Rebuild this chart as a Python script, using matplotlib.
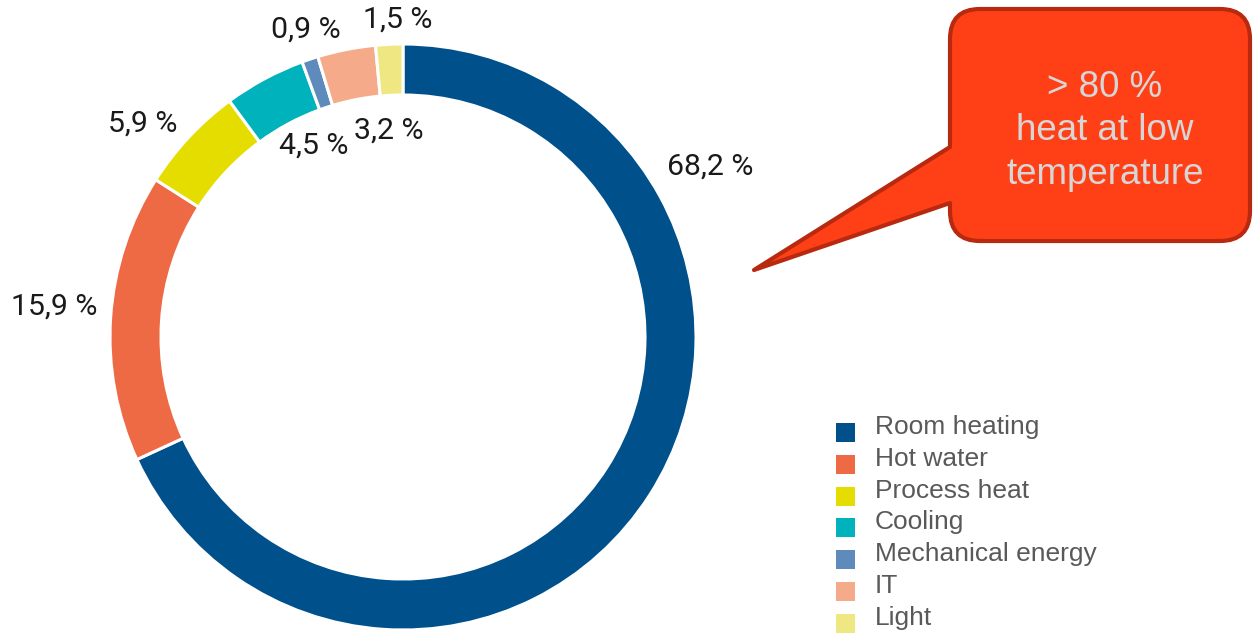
import matplotlib
matplotlib.use("Agg")
import matplotlib.pyplot as plt
from matplotlib.path import Path
from matplotlib.patches import PathPatch, Rectangle

# ---- data ----
categories = ["Room heating", "Hot water", "Process heat", "Cooling",
              "Mechanical energy", "IT", "Light"]
shares = [68.2, 15.9, 5.9, 4.5, 0.9, 3.2, 1.5]
label_texts = ["68,2 %", "15,9 %", "5,9 %", "4,5 %", "0,9 %", "3,2 %", "1,5 %"]
callout_text = "> 80 %\nheat at low\ntemperature"

# ---- styles / positions ----
colors = ["#00508C", "#EE6A45", "#E5DD00", "#00B2BB", "#5F8ABC", "#F5AA8A", "#EFE882"]
# label centres in pixel coordinates (x, y from top)
label_pos = [(710, 167), (54, 307), (143, 124), (314, 146), (306, 30), (389, 131), (398, 20)]

W, H = 1253, 633
fig = plt.figure(figsize=(W / 100, H / 100), dpi=100)
ax = fig.add_axes([0, 0, 1, 1])

cx, cy, R, ring = 403, H - 337, 293, 51
ax.pie(shares, colors=colors, startangle=90, counterclock=False,
       center=(cx, cy), radius=R, frame=True,
       wedgeprops=dict(width=ring, edgecolor="white", linewidth=2.2))
ax.set_xlim(0, W)
ax.set_ylim(0, H)
ax.set_aspect("equal")
ax.axis("off")

for txt, (x, y) in zip(label_texts, label_pos):
    ax.text(x, H - y, txt, ha="center", va="center", fontsize=21.8,
            family="Roboto", color="#1a1a1a")

# ---- callout ----
x0, x1 = 950, 1250
top, bot = H - 9, H - 241
r = 30
tip = (754, H - 270)
b_hi, b_lo = H - 147, H - 203
verts = [
    (x0 + r, top), (x1 - r, top), (x1, top), (x1, top - r),
    (x1, bot + r), (x1, bot), (x1 - r, bot),
    (x0 + r, bot), (x0, bot), (x0, bot + r),
    (x0, b_lo), tip, (x0, b_hi),
    (x0, top - r), (x0, top), (x0 + r, top), (x0 + r, top),
]
codes = [
    Path.MOVETO, Path.LINETO, Path.CURVE3, Path.CURVE3,
    Path.LINETO, Path.CURVE3, Path.CURVE3,
    Path.LINETO, Path.CURVE3, Path.CURVE3,
    Path.LINETO, Path.LINETO, Path.LINETO,
    Path.LINETO, Path.CURVE3, Path.CURVE3, Path.CLOSEPOLY,
]
ax.add_patch(PathPatch(Path(verts, codes), facecolor="#FF4017",
                       edgecolor="#B82A10", linewidth=3.0, joinstyle="round"))
ax.text(1105, H - 131, callout_text, ha="center", va="center",
        fontsize=26.5, family="Liberation Sans", color="#D6D6D6",
        linespacing=1.33)

# ---- legend ----
leg_y0, leg_dy = 427, 31.8
for i, (cat, col) in enumerate(zip(categories, colors)):
    yc = H - (leg_y0 + i * leg_dy)
    ax.add_patch(Rectangle((836, yc - 15), 19, 19, facecolor=col, edgecolor="none"))
    ax.text(875, yc, cat, ha="left", va="center", fontsize=19,
            family="Liberation Sans", color="#595959")

fig.savefig("out.png", dpi=100)
